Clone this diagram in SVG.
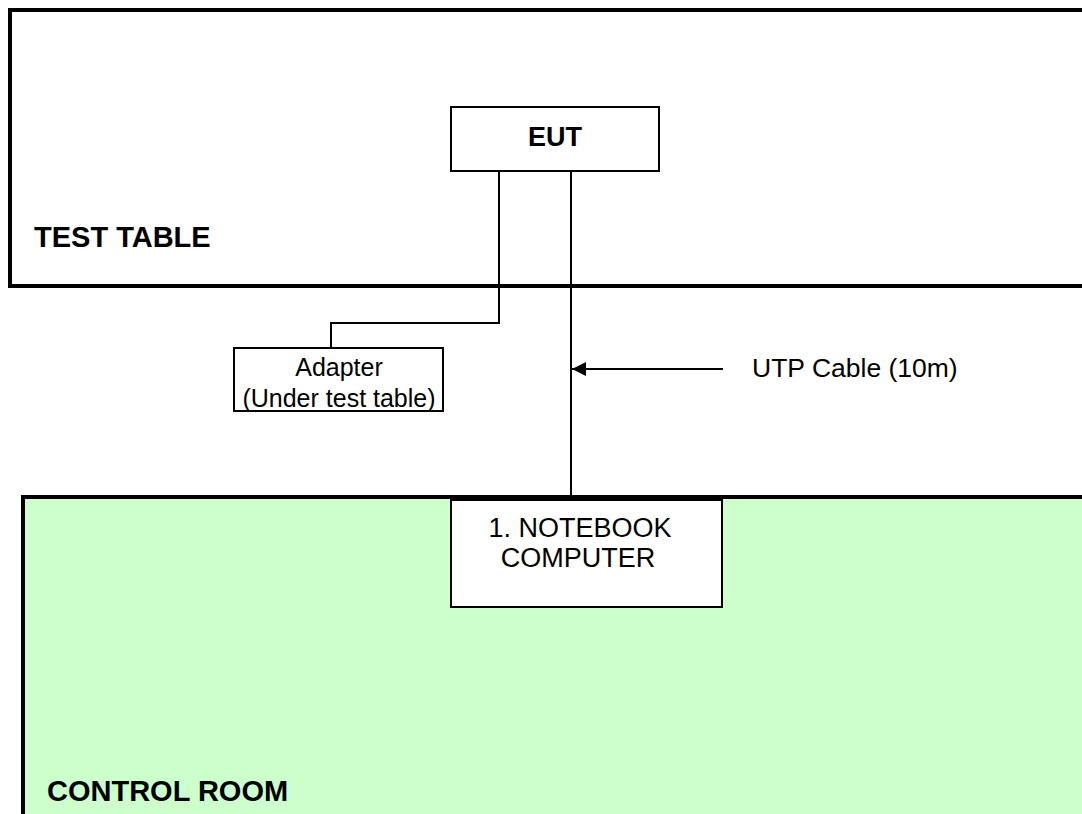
<svg xmlns="http://www.w3.org/2000/svg" width="1082" height="814" viewBox="0 0 1082 814">
<defs>
<style>
.room{stroke:#000;stroke-width:4}
.box{fill:#fff;stroke:#000;stroke-width:2}
.wire{fill:none;stroke:#000;stroke-width:2}
.bold{font-family:"Liberation Sans",Arial,sans-serif;font-weight:bold;font-size:29px;fill:#000}
.reg{font-family:"Liberation Sans",Arial,sans-serif;font-size:25px;fill:#000}
</style>
<marker id="arr" viewBox="0 0 14 14" refX="14" refY="7" markerWidth="14" markerHeight="14" markerUnits="userSpaceOnUse" orient="auto">
<path d="M0,0 L14,7 L0,14 z" fill="#000"/>
</marker>
</defs>
<rect width="1082" height="814" fill="#fff"/>
<g id="test-table">
<rect class="room" x="10" y="10" width="1074" height="276" fill="#fff"/>
<text class="bold" x="34" y="247">TEST TABLE</text>
</g>
<g id="control-room">
<rect class="room" x="23" y="497" width="1065" height="330" fill="#CCFFCC"/>
<text class="bold" x="47" y="801">CONTROL ROOM</text>
</g>
<g id="connectors">
<polyline class="wire" points="499,171 499,323 331,323 331,348"/>
<line class="wire" x1="571" y1="171" x2="571" y2="497"/>
<line class="wire" x1="723" y1="369" x2="572" y2="369" marker-end="url(#arr)"/>
</g>
<g id="eut">
<rect class="box" x="451" y="107" width="208" height="64"/>
<text class="bold" x="555" y="146" text-anchor="middle" style="font-size:27px">EUT</text>
</g>
<g id="adapter">
<rect class="box" x="234" y="348" width="209" height="63"/>
<text class="reg" x="339" y="376" text-anchor="middle">Adapter</text>
<text class="reg" x="339" y="407" text-anchor="middle">(Under test table)</text>
</g>
<g id="notebook">
<rect class="box" x="451" y="500" width="271" height="107"/>
<text class="reg" x="580" y="537" text-anchor="middle" style="font-size:27px">1. NOTEBOOK</text>
<text class="reg" x="578" y="567" text-anchor="middle" style="font-size:27px">COMPUTER</text>
</g>
<g id="utp-label">
<text class="reg" x="752" y="377" style="font-size:26.5px">UTP Cable (10m)</text>
</g>
</svg>
